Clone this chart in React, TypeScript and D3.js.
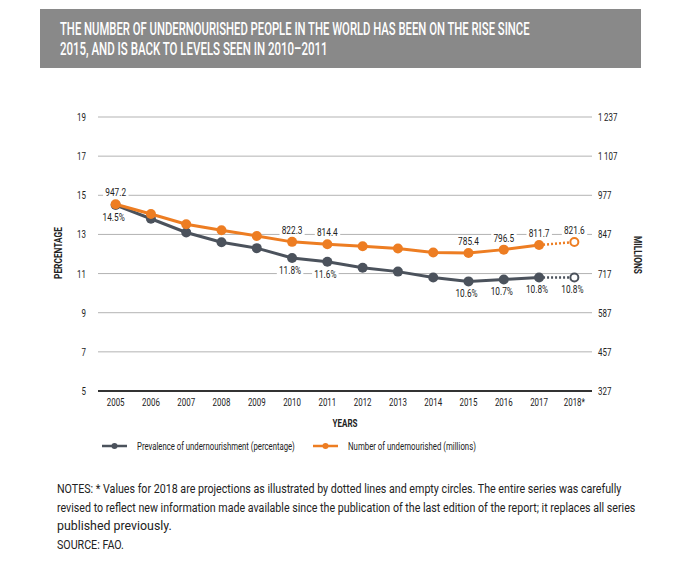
import React, { useRef, useEffect } from 'react';
import * as d3 from 'd3';

const years = ['2005', '2006', '2007', '2008', '2009', '2010', '2011', '2012', '2013', '2014', '2015', '2016', '2017', '2018*'];
const prevalence = [14.5, 13.8, 13.1, 12.6, 12.3, 11.8, 11.6, 11.3, 11.1, 10.8, 10.6, 10.7, 10.8, 10.8];
const undernourished = [947.2, 915, 881, 861, 842, 822.3, 814.4, 808, 800, 787, 785.4, 796.5, 811.7, 821.6];
// which points carry a value label
const prevalenceLabelled = [0, 5, 6, 10, 11, 12, 13];
const numberLabelled = [0, 5, 6, 10, 11, 12, 13];
const leftTicks = [5, 7, 9, 11, 13, 15, 17, 19];
const rightTicks = [327, 457, 587, 717, 847, 977, 1107, 1237];

const titleLines = [
  'THE NUMBER OF UNDERNOURISHED PEOPLE IN THE WORLD HAS BEEN ON THE RISE SINCE',
  '2015, AND IS BACK TO LEVELS SEEN IN 2010\u20132011',
];
const noteLines = [
  'NOTES: * Values for 2018 are projections as illustrated by dotted lines and empty circles. The entire series was carefully',
  'revised to reflect new information made available since the publication of the last edition of the report; it replaces all series',
  'published previously.',
  'SOURCE: FAO.',
];

const W = 683;
const H = 566;
const FONT = "Roboto, 'Liberation Sans', sans-serif";
const ORANGE = '#ed7d22';
const GREY = '#4b525c';
const TEXT = '#222';
const NARROW = 0.72;

type Opts = {
  size: number;
  anchor?: string;
  width?: number;
  sx?: number;
  weight?: string;
  rotate?: number;
  fill?: string;
  bg?: boolean;
};

const Chart: React.FC = () => {
  const svgRef = useRef<SVGSVGElement>(null);

  useEffect(() => {
    if (!svgRef.current) return;
    const svg = d3.select(svgRef.current);
    svg.selectAll('*').remove();
    svg.style('font-family', FONT);

    // condensed text: a normal face squeezed horizontally, either by a fixed
    // factor or to a given width
    const label = (px: number, py: number, txt: string, o: Opts) => {
      const g = svg.append('g');
      const t = g.append('text').attr('x', 0).attr('y', 0)
        .attr('text-anchor', o.anchor || 'start')
        .attr('font-size', o.size)
        .attr('font-weight', o.weight || 'normal')
        .attr('fill', o.fill || TEXT)
        .text(txt);
      const len = (t.node() as SVGTextElement).getComputedTextLength();
      const sx = o.width ? o.width / len : (o.sx ?? NARROW);
      g.attr('transform', `translate(${px},${py}) rotate(${o.rotate || 0}) scale(${sx},1)`);
      if (o.bg) {
        const b = (t.node() as SVGTextElement).getBBox();
        g.insert('rect', 'text').attr('x', b.x - 3).attr('y', b.y + 1)
          .attr('width', b.width + 6).attr('height', b.height - 2).attr('fill', '#fff');
      }
      return g;
    };

    // header band
    svg.append('rect').attr('x', 40).attr('y', 9).attr('width', 601).attr('height', 59).attr('fill', '#898989');
    const titleW = [470, 268];
    titleLines.forEach((t, i) => {
      label(60, 35 + i * 20, t, { size: 18.5, width: titleW[i], fill: '#fff', weight: '500' });
    });

    const x = d3.scalePoint<string>().domain(years).range([98, 592]).padding(0.5);
    const yL = d3.scaleLinear().domain([5, 19]).range([391, 117]);
    const yR = d3.scaleLinear().domain([327, 1237]).range([391, 117]);

    // gridlines
    leftTicks.slice(1).forEach(t => {
      svg.append('line').attr('x1', 98).attr('x2', 592)
        .attr('y1', yL(t)).attr('y2', yL(t))
        .attr('stroke', '#b3b3b3').attr('stroke-width', 1);
    });
    svg.append('line').attr('x1', 98).attr('x2', 592)
      .attr('y1', yL(5)).attr('y2', yL(5))
      .attr('stroke', '#333').attr('stroke-width', 2);

    // axis tick labels
    leftTicks.forEach(t => {
      label(86, yL(t) + 4, String(t), { size: 11, anchor: 'end' });
    });
    rightTicks.forEach(t => {
      label(598, yR(t) + 4, d3.format(',')(t).replace(',', '\u2009'), { size: 11 });
    });
    years.forEach(yr => {
      label(x(yr)!, 406, yr, { size: 11, anchor: 'middle' });
    });

    label(62, 253, 'PERCENTAGE', { size: 11, weight: 'bold', anchor: 'middle', rotate: -90, width: 52 });
    label(634, 255, 'MILLIONS', { size: 11, weight: 'bold', anchor: 'middle', rotate: 90, width: 38 });
    label(345, 427, 'YEARS', { size: 11, weight: 'bold', anchor: 'middle', width: 25 });

    const drawSeries = (vals: number[], y: d3.ScaleLinear<number, number>, color: string) => {
      const pts: [number, number][] = vals.map((v, i) => [x(years[i])!, y(v)]);
      const line = d3.line();
      const g = svg.append('g');
      g.append('path').attr('d', line(pts.slice(0, -1)))
        .attr('fill', 'none').attr('stroke', color).attr('stroke-width', 3);
      g.append('path').attr('d', line(pts.slice(-2)))
        .attr('fill', 'none').attr('stroke', color).attr('stroke-width', 2.5)
        .attr('stroke-dasharray', '2,2');
      pts.slice(0, -1).forEach(p => {
        g.append('circle').attr('cx', p[0]).attr('cy', p[1]).attr('r', 5).attr('fill', color);
      });
      const last = pts[pts.length - 1];
      g.append('circle').attr('cx', last[0]).attr('cy', last[1]).attr('r', 4)
        .attr('fill', '#fff').attr('stroke', color).attr('stroke-width', 2);
    };
    drawSeries(prevalence, yL, GREY);
    drawSeries(undernourished, yR, ORANGE);

    numberLabelled.forEach(i => {
      label(x(years[i])!, yR(undernourished[i]) - 8, d3.format('.1f')(undernourished[i]),
        { size: 11.5, anchor: 'middle', bg: true });
    });
    prevalenceLabelled.forEach(i => {
      label(x(years[i])! - 2, yL(prevalence[i]) + 16, d3.format('.1f')(prevalence[i]) + '%',
        { size: 11.5, anchor: 'middle', bg: true });
    });

    // legend
    const legend = [
      { label: 'Prevalence of undernourishment (percentage)', color: GREY, x: 102, w: 158 },
      { label: 'Number of undernourished (millions)', color: ORANGE, x: 313, w: 128 },
    ];
    legend.forEach(l => {
      svg.append('line').attr('x1', l.x).attr('x2', l.x + 25).attr('y1', 446).attr('y2', 446)
        .attr('stroke', l.color).attr('stroke-width', 2.5);
      svg.append('circle').attr('cx', l.x + 12.5).attr('cy', 446).attr('r', 3).attr('fill', l.color);
      label(l.x + 35, 450, l.label, { size: 11.5, width: l.w });
    });

    // notes
    const noteW = [565, 579, 115, 67];
    noteLines.forEach((n, i) => {
      label(57, 493 + i * 18.7, n, { size: 13.5, width: noteW[i] });
    });
  }, []);

  return (
    <div style={{ position: 'absolute', left: 0, top: 0 }}>
      <svg ref={svgRef} width={W} height={H} style={{ display: 'block', background: '#fff' }} />
    </div>
  );
};

export default function App() {
  return <Chart />;
}
